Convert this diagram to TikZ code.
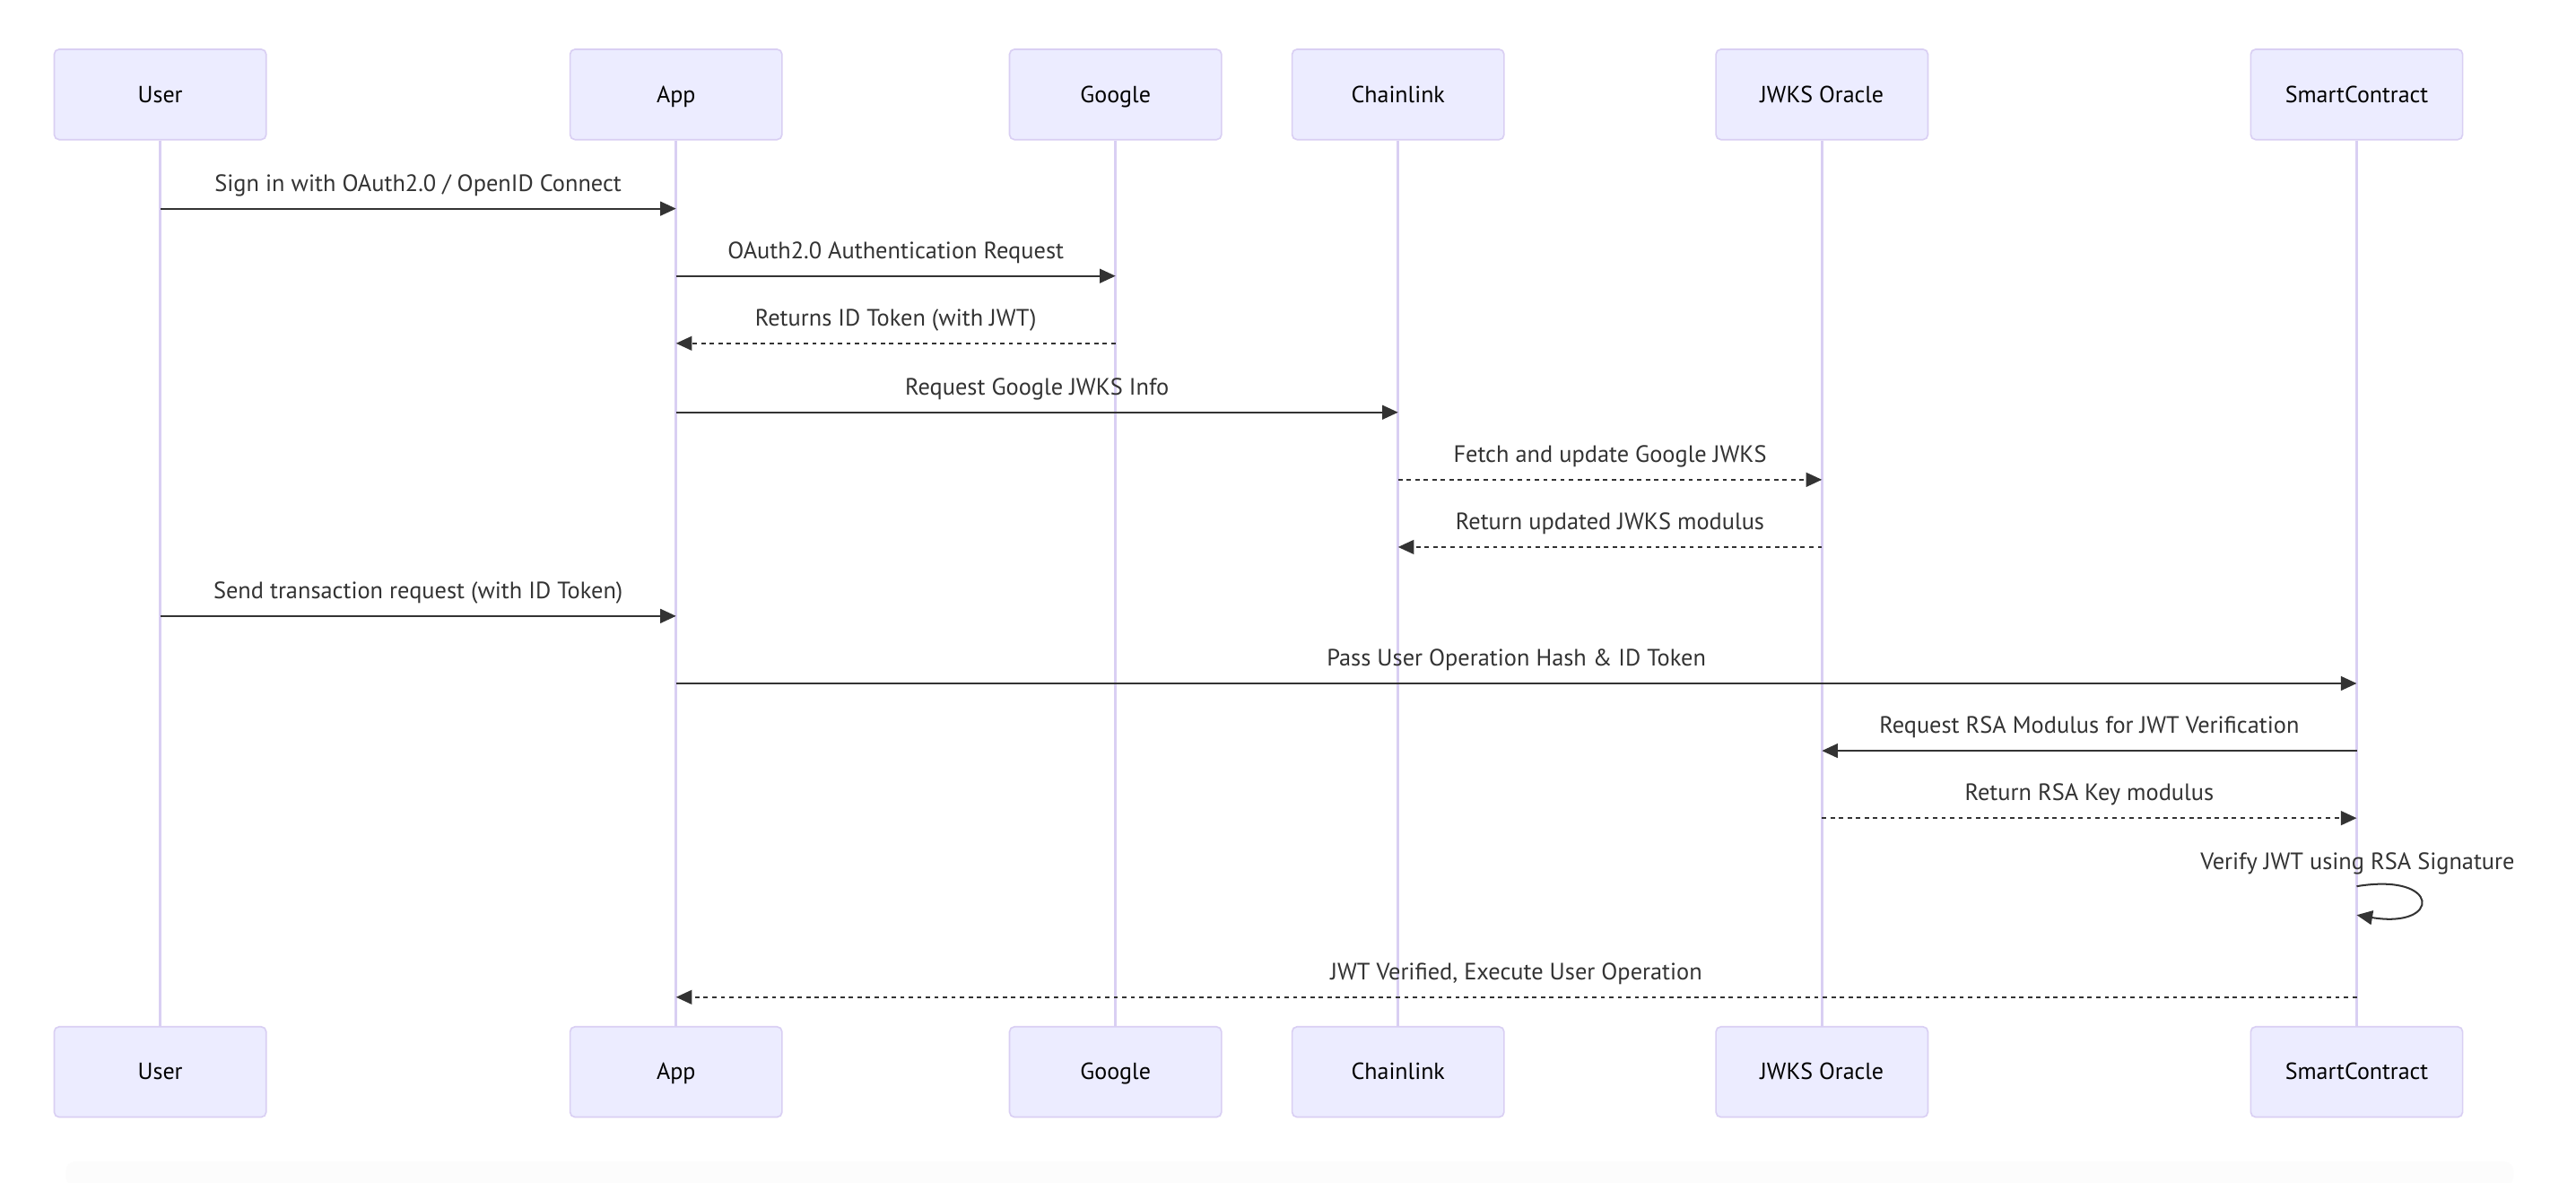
\documentclass[tikz,border=0pt]{standalone}
\usepackage{fontspec}
\setmainfont{PT Sans}
\usetikzlibrary{arrows.meta}
\definecolor{actfill}{HTML}{ECECFF}
\definecolor{actline}{HTML}{D9CFF3}
\definecolor{msgcol}{HTML}{333333}
\tikzset{
  actor/.style={draw=actline, fill=actfill, line width=0.9pt, rounded corners=3pt,
    minimum width=129pt, minimum height=55pt, inner sep=0pt, text height=11pt, text depth=1.5pt,
    font=\fontsize{14.2}{16}\selectfont, text=black},
  lifeline/.style={draw=actline, line width=1.4pt},
  msg/.style={draw=msgcol, line width=1.1pt, -{Triangle[length=9.6pt,width=8.6pt]}},
  reply/.style={msg, dash pattern=on 2.6pt off 2.6pt},
  lbl/.style={text=msgcol, font=\fontsize{14.4}{17}\selectfont, inner sep=0pt, text height=10.5pt, text depth=3pt}
}
\begin{document}
\begin{tikzpicture}[x=1pt,y=-1pt]
\useasboundingbox (0,0) rectangle (1568,720);
\fill[white] (0,0) rectangle (1568,720);
\fill[black!1.2, rounded corners=6pt] (40,707) rectangle (1530,722);
% actors top
\node[actor] (uT) at (97.5,57.5) {User};
\node[actor] (aT) at (411.5,57.5) {App};
\node[actor] (gT) at (679,57.5) {Google};
\node[actor] (cT) at (851,57.5) {Chainlink};
\node[actor] (jT) at (1109,57.5) {JWKS Oracle};
\node[actor] (sT) at (1434.5,57.5) {SmartContract};
% actors bottom
\node[actor] (uB) at (97.5,652.5) {User};
\node[actor] (aB) at (411.5,652.5) {App};
\node[actor] (gB) at (679,652.5) {Google};
\node[actor] (cB) at (851,652.5) {Chainlink};
\node[actor] (jB) at (1109,652.5) {JWKS Oracle};
\node[actor] (sB) at (1434.5,652.5) {SmartContract};
% lifelines
\foreach \a in {u,a,g,c,j,s}{
  \draw[lifeline] (\a T.south) -- (\a B.north);
}
% messages
\draw[msg] (uT |- 0,127) -- (aT |- 0,127) node[lbl, midway, yshift=14.25pt] {Sign in with OAuth2.0 / OpenID Connect};
\draw[msg] (aT |- 0,168) -- (gT |- 0,168) node[lbl, midway, yshift=14.25pt] {OAuth2.0 Authentication Request};
\draw[reply] (gT |- 0,209) -- (aT |- 0,209) node[lbl, midway, yshift=14.25pt] {Returns ID Token (with JWT)};
\draw[msg] (aT |- 0,251) -- (cT |- 0,251) node[lbl, midway, yshift=14.25pt] {Request Google JWKS Info};
\draw[reply] (cT |- 0,292) -- (jT |- 0,292) node[lbl, midway, yshift=14.25pt] {Fetch and update Google JWKS};
\draw[reply] (jT |- 0,333) -- (cT |- 0,333) node[lbl, midway, yshift=14.25pt] {Return updated JWKS modulus};
\draw[msg] (uT |- 0,375) -- (aT |- 0,375) node[lbl, midway, yshift=14.25pt] {Send transaction request (with ID Token)};
\draw[msg] (aT |- 0,416) -- (sT |- 0,416) node[lbl, midway, yshift=14.25pt] {Pass User Operation Hash \& ID Token};
\draw[msg] (sT |- 0,457) -- (jT |- 0,457) node[lbl, midway, yshift=14.25pt] {Request RSA Modulus for JWT Verification};
\draw[reply] (jT |- 0,498) -- (sT |- 0,498) node[lbl, midway, yshift=14.25pt] {Return RSA Key modulus};
% self loop
\node[lbl] (selfl) at (1435,525.5) {Verify JWT using RSA Signature};
\draw[msg] (sT |- 0,539.5) .. controls +(51.6,-8.6) and +(51.6,8.6) .. (sT |- 0,557);
\draw[reply] (sT |- 0,607) -- (aT |- 0,607) node[lbl, midway, yshift=14.25pt] {JWT Verified, Execute User Operation};
\end{tikzpicture}
\end{document}
